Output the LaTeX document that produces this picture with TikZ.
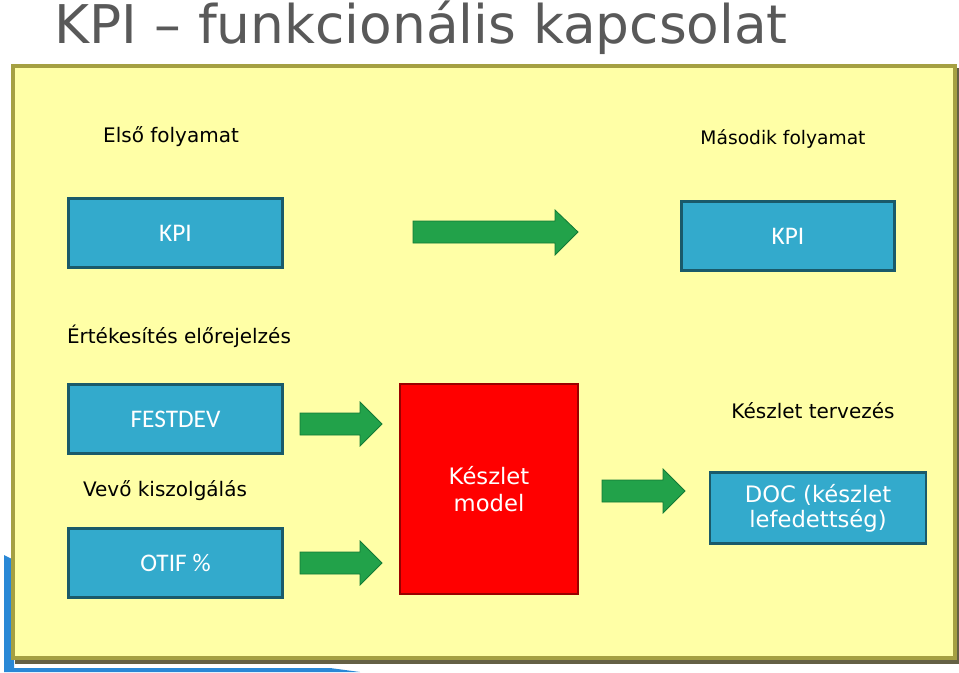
\documentclass[tikz,border=0pt]{standalone}
\usepackage{fontspec}
\setmainfont{DejaVu Sans}
\newfontfamily\carlitofam{Carlito}
\begin{document}
\begin{tikzpicture}[x=0.75pt,y=-0.75pt,
  bbox/.style={line width=2.2pt,text=white,font=\carlitofam\fontsize{19}{22}\selectfont,inner sep=0},
  garrow/.style={line width=0.6pt},
  lbl/.style={font=\fontsize{15}{18}\selectfont,anchor=center}]
\definecolor{panel}{HTML}{FFFFA6}
\definecolor{boxc}{HTML}{33AACC}
\definecolor{boxd}{HTML}{1A5A6A}
\definecolor{garr}{HTML}{22A24A}
\definecolor{garrd}{HTML}{137A35}
\tikzset{bbox/.append style={fill=boxc,draw=boxd}, garrow/.append style={fill=garr,draw=garrd}}
\useasboundingbox (0,0) rectangle (959,672);
\fill[white] (0,0) rectangle (959,672);
% decorative blue strip
\fill[boxc!80!blue] (4,555) -- (14,560) -- (14,668) -- (330,668) -- (360,672) -- (4,672) -- cycle;
% title
\node[text=black!65,font=\fontsize{40}{46}\selectfont,anchor=west] (title) at (50,28) {KPI – funkcionális kapcsolat};
% panel
\fill[black!70!yellow] (15,68) rectangle (959,664);
\filldraw[fill=panel,draw=yellow!60!black,line width=2.5pt] (13,66) rectangle (955,658);
% labels
\node[lbl] (l1) at (171,137) {Első folyamat};
\node[lbl,font=\fontsize{14}{17}\selectfont] (l2) at (783,139) {Második folyamat};
\node[lbl] (l3) at (179,336) {Értékesítés előrejelzés};
\node[lbl] (l4) at (165,491) {Vevő kiszolgálás};
\node[lbl] (l5) at (813,411) {Készlet tervezés};
% boxes
\node[bbox,minimum width=161pt,minimum height=52pt] (k1) at (175.5,233) {KPI};
\node[bbox,minimum width=160pt,minimum height=52pt] (k2) at (788,236) {KPI};
\node[bbox,minimum width=161pt,minimum height=52pt] (fest) at (175.5,419) {FESTDEV};
\node[bbox,minimum width=161pt,minimum height=52pt] (otif) at (175.5,563) {OTIF \%};
\node[bbox,minimum width=162pt,minimum height=53pt,font=\fontsize{17}{19}\selectfont,align=center] (doc) at (818,508) {DOC (készlet\\lefedettség)};
\node[draw=red!60!black,line width=1.5pt,fill=red,minimum width=133pt,minimum height=158pt,text=white,font=\fontsize{17}{20}\selectfont,align=center,inner sep=0] (km) at (489,489) {Készlet\\model};
% arrows
\filldraw[garrow] (413,221) -- (555,221) -- (555,210) -- (578,232) -- (555,255) -- (555,243) -- (413,243) -- cycle;
\filldraw[garrow] (300,413) -- (360,413) -- (360,402) -- (382,424) -- (360,446) -- (360,435) -- (300,435) -- cycle;
\filldraw[garrow] (300,552) -- (360,552) -- (360,541) -- (382,563) -- (360,585) -- (360,574) -- (300,574) -- cycle;
\filldraw[garrow] (602,480) -- (663,480) -- (663,469) -- (685,491) -- (663,513) -- (663,502) -- (602,502) -- cycle;
\end{tikzpicture}
\end{document}
